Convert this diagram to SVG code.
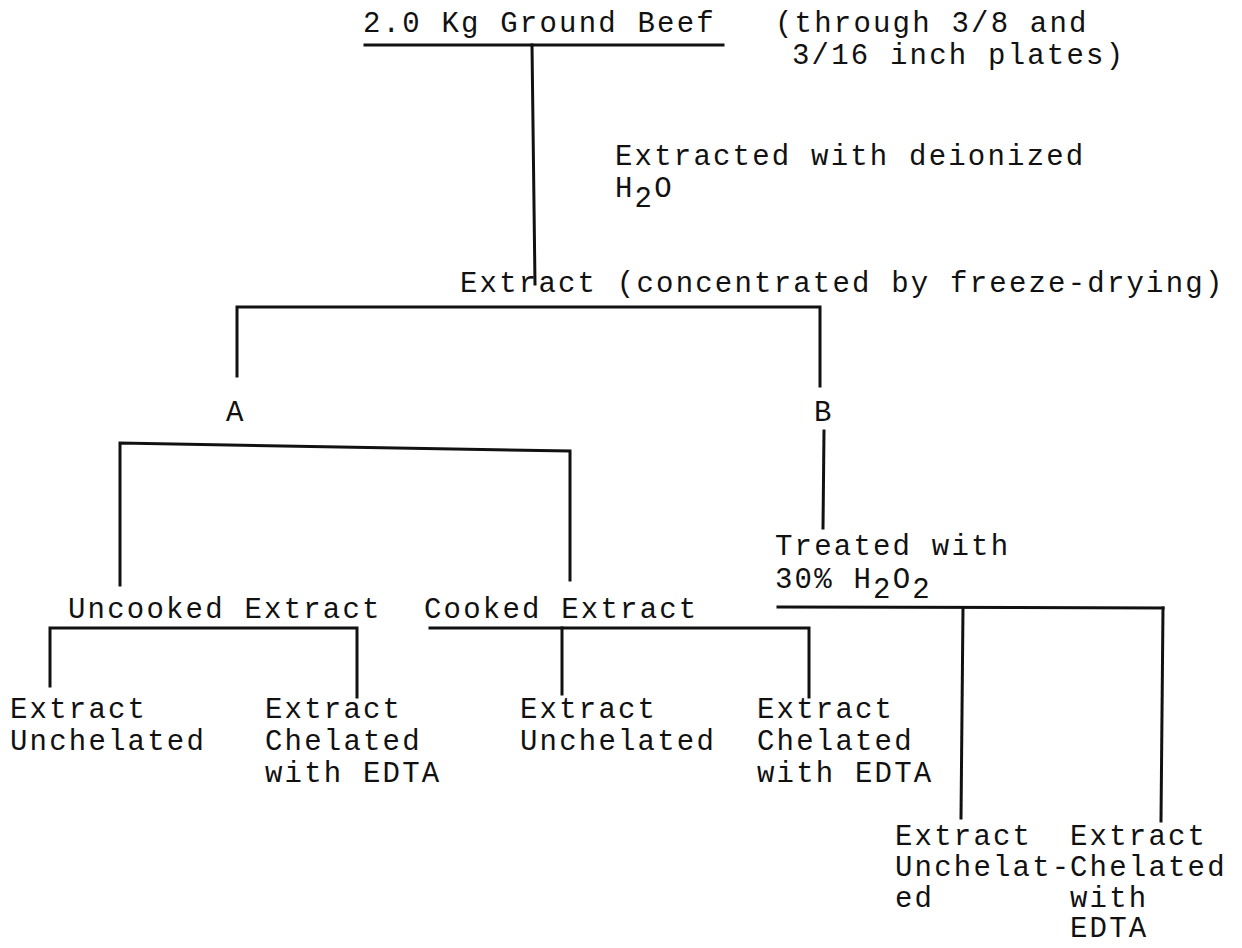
<svg xmlns="http://www.w3.org/2000/svg" width="1242" height="948" viewBox="0 0 1242 948">
<style>
text{font-family:"Liberation Mono","DejaVu Sans Mono",monospace;font-size:29px;letter-spacing:2.2px;fill:#111}
.c line,.c path{stroke:#111;stroke-width:3;fill:none;stroke-linecap:square}
</style>
<rect width="1242" height="948" fill="#fff"/>
<g class="c" id="connectors">
<line x1="365" y1="45" x2="723" y2="45"/>
<line x1="532" y1="45" x2="535" y2="284"/>
<path d="M237 376 V307 H820 V386"/>
<line x1="824" y1="431" x2="823" y2="528"/>
<path d="M120 585 V443 L570 451 V580"/>
<line x1="778" y1="607" x2="1163" y2="608"/>
<line x1="963" y1="608" x2="961" y2="818"/>
<line x1="1163" y1="608" x2="1161" y2="821"/>
<path d="M50 686 V628 H357 V697"/>
<path d="M430 628 H809 V697"/>
<line x1="562" y1="628" x2="562" y2="694"/>
</g>
<g id="n-beef"><text x="363" y="32">2.0 Kg Ground Beef</text><text x="775" y="32">(through 3/8 and</text><text x="792" y="64">3/16 inch plates)</text></g>
<g id="n-extracted"><text x="615" y="165">Extracted with deionized</text><text x="615" y="197">H<tspan dy="10">2</tspan><tspan dy="-10">O</tspan></text></g>
<g id="n-extract"><text x="460" y="292">Extract (concentrated by freeze-drying)</text></g>
<g id="n-a"><text x="226" y="421">A</text></g>
<g id="n-b"><text x="814" y="421">B</text></g>
<g id="n-treated"><text x="775" y="555">Treated with</text><text x="775" y="588">30% H<tspan dy="10">2</tspan><tspan dy="-10">O</tspan><tspan dy="10">2</tspan></text></g>
<g id="n-uncooked"><text x="68" y="618">Uncooked Extract</text></g>
<g id="n-cooked"><text x="424" y="618">Cooked Extract</text></g>
<g id="n-u1"><text x="10" y="718">Extract</text><text x="10" y="750">Unchelated</text></g>
<g id="n-u2"><text x="265" y="718">Extract</text><text x="265" y="750">Chelated</text><text x="265" y="782">with EDTA</text></g>
<g id="n-c1"><text x="520" y="718">Extract</text><text x="520" y="750">Unchelated</text></g>
<g id="n-c2"><text x="757" y="718">Extract</text><text x="757" y="750">Chelated</text><text x="757" y="782">with EDTA</text></g>
<g id="n-t1"><text x="895" y="845">Extract</text><text x="895" y="876">Unchelat-</text><text x="895" y="907">ed</text></g>
<g id="n-t2"><text x="1070" y="845">Extract</text><text x="1070" y="876">Chelated</text><text x="1070" y="907">with</text><text x="1070" y="937">EDTA</text></g>
</svg>
